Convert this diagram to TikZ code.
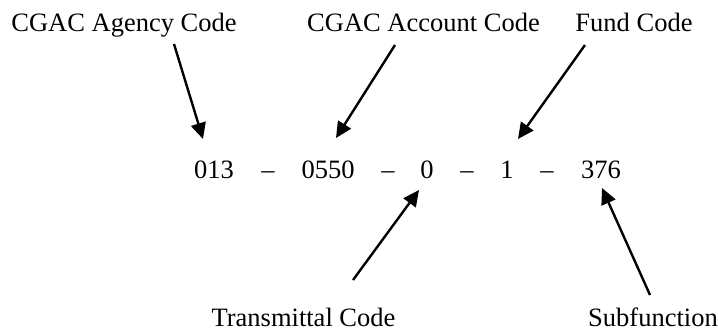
\documentclass[tikz,border=0pt]{standalone}
\usepackage{fontspec}
\setmainfont{Liberation Serif}
\usetikzlibrary{arrows.meta}
\begin{document}
\begin{tikzpicture}[x=1pt,y=-1pt,
  lbl/.style={inner sep=0pt,outer sep=0pt,anchor=base,font=\fontsize{26.5}{30}\selectfont},
  ptr/.style={line width=2.4pt,-{Triangle[length=16pt,width=15pt]}}]
\useasboundingbox (0,0) rectangle (718,333);
% top labels
\node[lbl] (agency) at (124,31) {CGAC Agency Code};
\node[lbl] (account) at (423.5,31) {CGAC Account Code};
\node[lbl] (fund) at (634,31) {Fund Code};
% code parts
\node[lbl] (c1) at (214,178) {013};
\node[lbl] (d1) at (268,178) {–};
\node[lbl] (c2) at (328,178) {0550};
\node[lbl] (d2) at (388,178) {–};
\node[lbl] (c3) at (427,178) {0};
\node[lbl] (d3) at (467,178) {–};
\node[lbl] (c4) at (507,178) {1};
\node[lbl] (d4) at (547,178) {–};
\node[lbl] (c5) at (601,178) {376};
% bottom labels
\node[lbl] (trans) at (303.5,326) {Transmittal Code};
\node[lbl] (subf) at (653,326) {Subfunction};
% arrow ends
\coordinate (s1) at (174,44);  \coordinate (e1) at (203,139);
\coordinate (s2) at (395,45);  \coordinate (e2) at (336,138);
\coordinate (s3) at (585,45);  \coordinate (e3) at (518,139);
\coordinate (s4) at (353,280); \coordinate (e4) at (419,190);
\coordinate (s5) at (650,295); \coordinate (e5) at (602,188);
\draw[ptr] (s1) -- (e1);
\draw[ptr] (s2) -- (e2);
\draw[ptr] (s3) -- (e3);
\draw[ptr] (s4) -- (e4);
\draw[ptr] (s5) -- (e5);
\end{tikzpicture}
\end{document}
